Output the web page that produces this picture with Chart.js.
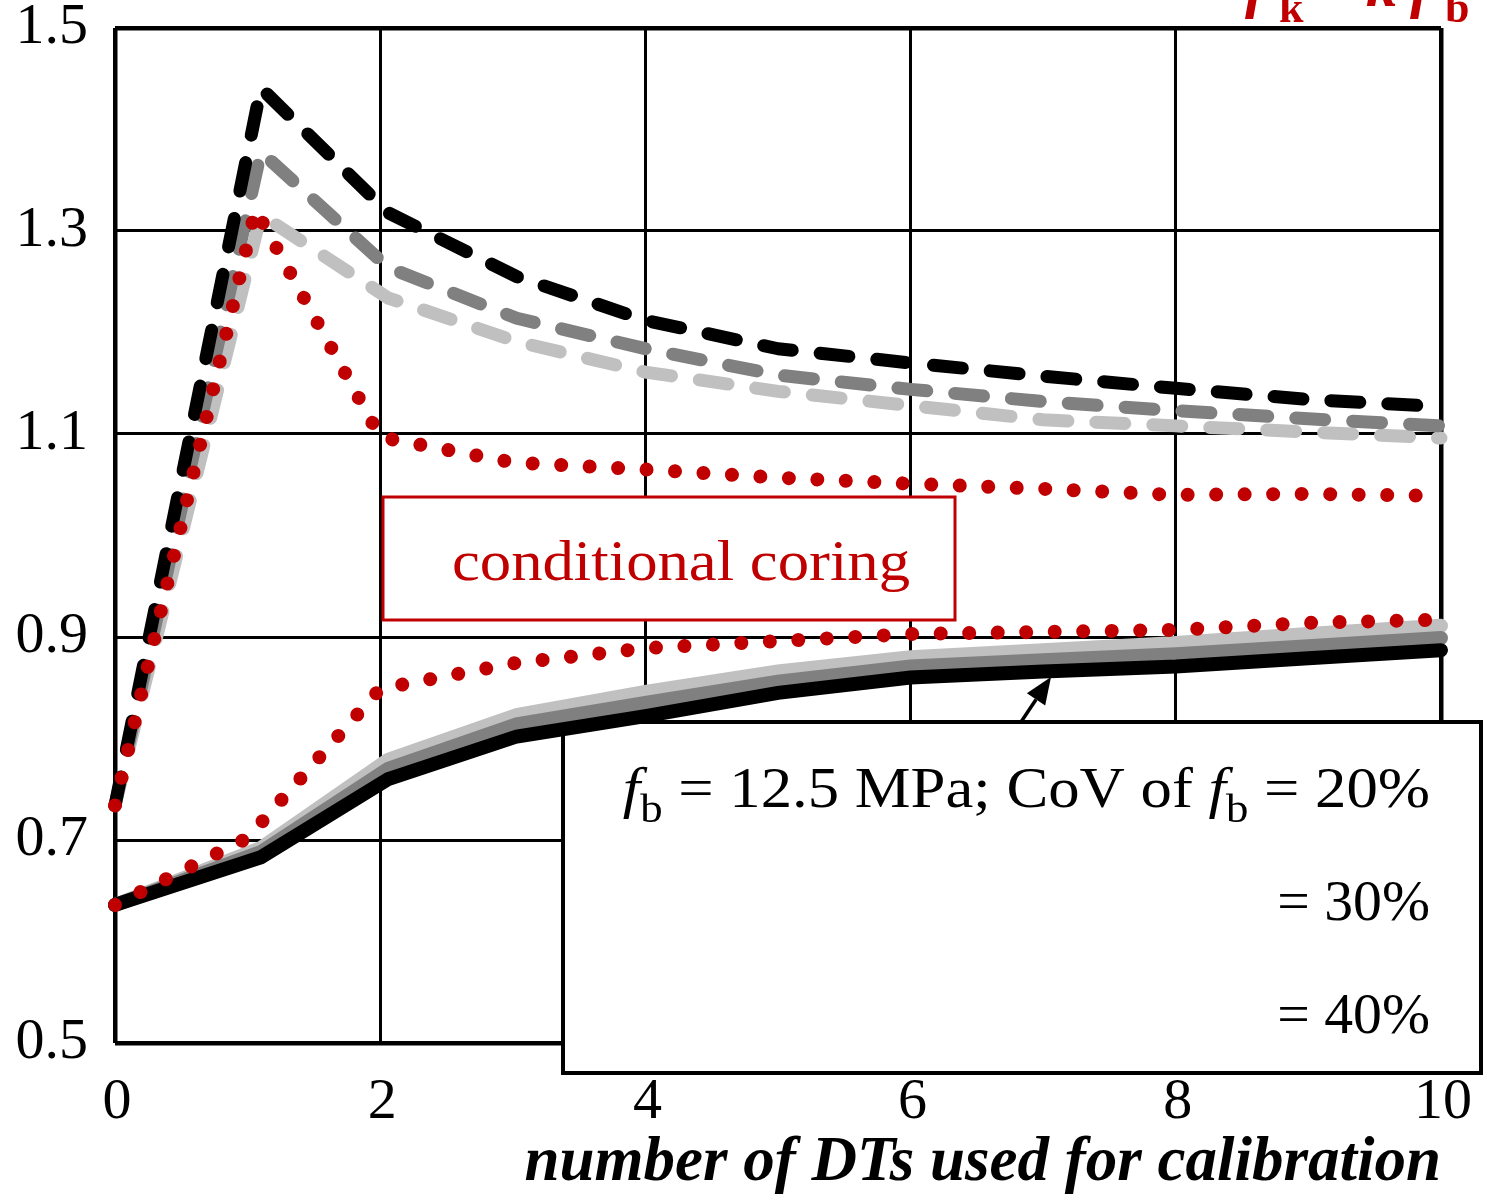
<!DOCTYPE html>
<html>
<head>
<meta charset="utf-8">
<script src="https://cdn.jsdelivr.net/npm/chart.js@4.4.1/dist/chart.umd.min.js"></script>
<style>
  html, body { margin: 0; padding: 0; background: #fff; }
  #wrap { width: 1487px; height: 1195px; }
</style>
</head>
<body>
<div id="wrap"><canvas id="c" width="1487" height="1195"></canvas></div>
<script>
// ---- data ----
const xTicks = [0, 2, 4, 6, 8, 10];
const yTicks = [0.5, 0.7, 0.9, 1.1, 1.3, 1.5];

// x positions (number of DTs) of the plotted vertices
const xGrey      = [0, 1.1, 2.06, 3.03, 4, 5, 6, 7, 8, 9, 10];
const xRedUpper  = [0, 1.06, 2, 3, 4, 5, 6, 7, 8, 9, 10];
const xRedLower  = [0, 1, 2, 3, 4, 5, 6, 7, 8, 9, 10];

// dashed curves (black, grey, light grey)
const dashBlack = [0.734, 1.441, 1.318, 1.255, 1.212, 1.184, 1.170, 1.157, 1.145, 1.134, 1.127];
const dashGrey  = [0.734, 1.378, 1.264, 1.214, 1.184, 1.158, 1.144, 1.132, 1.123, 1.115, 1.108];
const dashLight = [0.734, 1.316, 1.234, 1.191, 1.161, 1.142, 1.128, 1.114, 1.108, 1.102, 1.096];

// solid curves
const solidBlack = [0.636, 0.683, 0.760, 0.802, 0.822, 0.845, 0.860, 0.866, 0.871, 0.879, 0.887];
const solidGrey  = [0.636, 0.688, 0.770, 0.814, 0.835, 0.856, 0.871, 0.877, 0.883, 0.891, 0.899];
const solidLight = [0.636, 0.692, 0.779, 0.823, 0.846, 0.866, 0.880, 0.887, 0.894, 0.903, 0.911];

// conditional coring (red dotted)
const redUpper = [0.734, 1.321, 1.097, 1.072, 1.065, 1.057, 1.051, 1.046, 1.040, 1.041, 1.039];
const redLower = [0.636, 0.702, 0.849, 0.874, 0.889, 0.896, 0.903, 0.905, 0.907, 0.914, 0.917];

const RED = '#c00000';
const FONT = 'Liberation Serif';
const STRETCH = 1.12;

function pts(xs, ys) { return xs.map((x, i) => ({ x: x, y: ys[i] })); }

function dashed(label, xs, ys, color, order) {
  return { label, data: pts(xs, ys), borderColor: color, borderWidth: 13,
    borderDash: [29, 28], borderCapStyle: 'round', borderJoinStyle: 'round',
    pointRadius: 0, tension: 0, fill: false, order, clip: false };
}
function solid(label, xs, ys, color, order) {
  return { label, data: pts(xs, ys), borderColor: color, borderWidth: 14,
    borderCapStyle: 'round', borderJoinStyle: 'miter',
    pointRadius: 0, tension: 0, fill: false, order, clip: false };
}
function dotted(label, xs, ys, order) {
  return { label, data: pts(xs, ys), borderColor: RED, borderWidth: 14,
    borderDash: [0.01, 28.5], borderCapStyle: 'round', borderJoinStyle: 'round',
    pointRadius: 0, tension: 0, fill: false, order, clip: false };
}

// draws a run of text pieces, right-aligned at xRight, stretched horizontally
function drawRich(ctx, parts, xRight, baseline, sx) {
  let total = 0;
  parts.forEach(p => { ctx.font = p.font; p.w = ctx.measureText(p.t).width; total += p.w; });
  ctx.save();
  ctx.translate(xRight, baseline);
  ctx.scale(sx, 1);
  ctx.textAlign = 'left';
  ctx.textBaseline = 'alphabetic';
  let x = -total;
  parts.forEach(p => { ctx.font = p.font; ctx.fillText(p.t, x, p.dy || 0); x += p.w; });
  ctx.restore();
}

const boxPlugin = {
  id: 'boxes',
  beforeDatasetsDraw(chart) {
    const ctx = chart.ctx;
    ctx.save();
    ctx.fillStyle = '#fff';
    ctx.fillRect(563, 722, 918, 351);
    ctx.strokeStyle = '#000';
    ctx.lineWidth = 4;
    ctx.strokeRect(563, 722, 918, 351);
    ctx.fillStyle = '#fff';
    ctx.fillRect(383, 497, 572, 123);
    ctx.strokeStyle = RED;
    ctx.lineWidth = 3;
    ctx.strokeRect(383, 497, 572, 123);
    ctx.restore();
  },
  afterDraw(chart) {
    const ctx = chart.ctx;
    ctx.save();
    // conditional coring label
    ctx.save();
    ctx.fillStyle = RED;
    ctx.font = `56px "${FONT}"`;
    ctx.textAlign = 'center';
    ctx.textBaseline = 'alphabetic';
    ctx.translate(681, 580);
    ctx.scale(STRETCH, 1);
    ctx.fillText('conditional coring', 0, 0);
    ctx.restore();

    // legend text
    ctx.fillStyle = '#000';
    const reg = `56px "${FONT}"`, ita = `italic 56px "${FONT}"`, sub = `40px "${FONT}"`;
    drawRich(ctx, [
      { t: 'f', font: ita }, { t: 'b', font: sub, dy: 15 },
      { t: ' = 12.5 MPa; CoV of ', font: reg },
      { t: 'f', font: ita }, { t: 'b', font: sub, dy: 15 },
      { t: ' = 20%', font: reg }
    ], 1430, 807, STRETCH);
    drawRich(ctx, [{ t: '= 30%', font: reg }], 1430, 920, 1.03);
    drawRich(ctx, [{ t: '= 40%', font: reg }], 1430, 1033, 1.03);

    // arrow pointing at the solid black curve
    const tipX = 1051, tipY = 677, tailX = 1021, tailY = 722;
    const ang = Math.atan2(tipY - tailY, tipX - tailX);
    const hl = 27, hw = 11;
    const bx = tipX - hl * Math.cos(ang), by = tipY - hl * Math.sin(ang);
    ctx.strokeStyle = '#000';
    ctx.lineWidth = 3.5;
    ctx.beginPath(); ctx.moveTo(tailX, tailY); ctx.lineTo(bx, by); ctx.stroke();
    ctx.fillStyle = '#000';
    ctx.beginPath();
    ctx.moveTo(tipX, tipY);
    ctx.lineTo(bx + hw * Math.sin(ang), by - hw * Math.cos(ang));
    ctx.lineTo(bx - hw * Math.sin(ang), by + hw * Math.cos(ang));
    ctx.closePath(); ctx.fill();

    // partially visible formula at the top right (cut by the image edge)
    ctx.fillStyle = RED;
    ctx.textAlign = 'left';
    ctx.textBaseline = 'alphabetic';
    const bi = `italic bold 62px "${FONT}"`, bs = `bold 44px "${FONT}"`;
    ctx.font = bi; ctx.fillText('f', 1245, 6);
    ctx.font = bs; ctx.fillText('k', 1279, 22);
    ctx.font = bi; ctx.fillText('=', 1316, -22);
    ctx.font = bi; ctx.fillText('k', 1366, 6);
    ctx.font = bi; ctx.fillText('f', 1410, 6);
    ctx.font = bs; ctx.fillText('b', 1445, 22);
    ctx.restore();
  }
};

const tickFont = { family: FONT, size: 58, lineHeight: 1 };

function zeroPad(s) { s.paddingLeft = 0; s.paddingRight = 0; s.paddingTop = 0; s.paddingBottom = 0; }

new Chart(document.getElementById('c'), {
  type: 'line',
  data: {
    datasets: [
      dotted('conditional coring (upper)', xRedUpper, redUpper, 0),
      dotted('conditional coring (lower)', xRedLower, redLower, 0),
      dashed('dashed black', xGrey, dashBlack, '#000000', 1),
      dashed('dashed grey', xGrey, dashGrey, '#808080', 2),
      dashed('dashed light grey', xGrey, dashLight, '#c0c0c0', 3),
      solid('solid black', xGrey, solidBlack, '#000000', 1),
      solid('solid grey', xGrey, solidGrey, '#808080', 2),
      solid('solid light grey', xGrey, solidLight, '#c0c0c0', 3)
    ]
  },
  options: {
    responsive: false,
    devicePixelRatio: 1,
    animation: false,
    layout: { padding: { left: 0, right: 46, top: 28, bottom: 0 } },
    plugins: { legend: { display: false }, tooltip: { enabled: false } },
    scales: {
      x: {
        type: 'linear', min: 0, max: 10,
        afterBuildTicks: s => { s.ticks = xTicks.map(v => ({ value: v })); },
        afterFit: s => { s.height = 152; zeroPad(s); },
        grid: { color: '#000', drawTicks: false,
          lineWidth: c => (c.tick && (c.tick.value === 0 || c.tick.value === 10)) ? 4.5 : 3 },
        border: { display: false },
        ticks: { font: tickFont, color: '#000', padding: 31, labelOffset: 2, maxRotation: 0, autoSkip: false,
          callback: v => String(v) },
        title: { display: true, text: 'number of DTs used for calibration', align: 'end',
          color: '#000', padding: 0,
          font: { family: FONT, size: 63, style: 'italic', weight: 'bold', lineHeight: 1 } }
      },
      y: {
        type: 'linear', min: 0.5, max: 1.5,
        afterBuildTicks: s => { s.ticks = yTicks.map(v => ({ value: v })); },
        afterFit: s => { s.width = 115; zeroPad(s); },
        grid: { color: '#000', drawTicks: false,
          lineWidth: c => (c.tick && (Math.abs(c.tick.value - 0.5) < 1e-6 || Math.abs(c.tick.value - 1.5) < 1e-6)) ? 4.5 : 3 },
        border: { display: false },
        ticks: { font: tickFont, color: '#000', padding: 27, autoSkip: false,
          callback: v => Number(v).toFixed(1) }
      }
    }
  },
  plugins: [boxPlugin]
});
</script>
</body>
</html>
